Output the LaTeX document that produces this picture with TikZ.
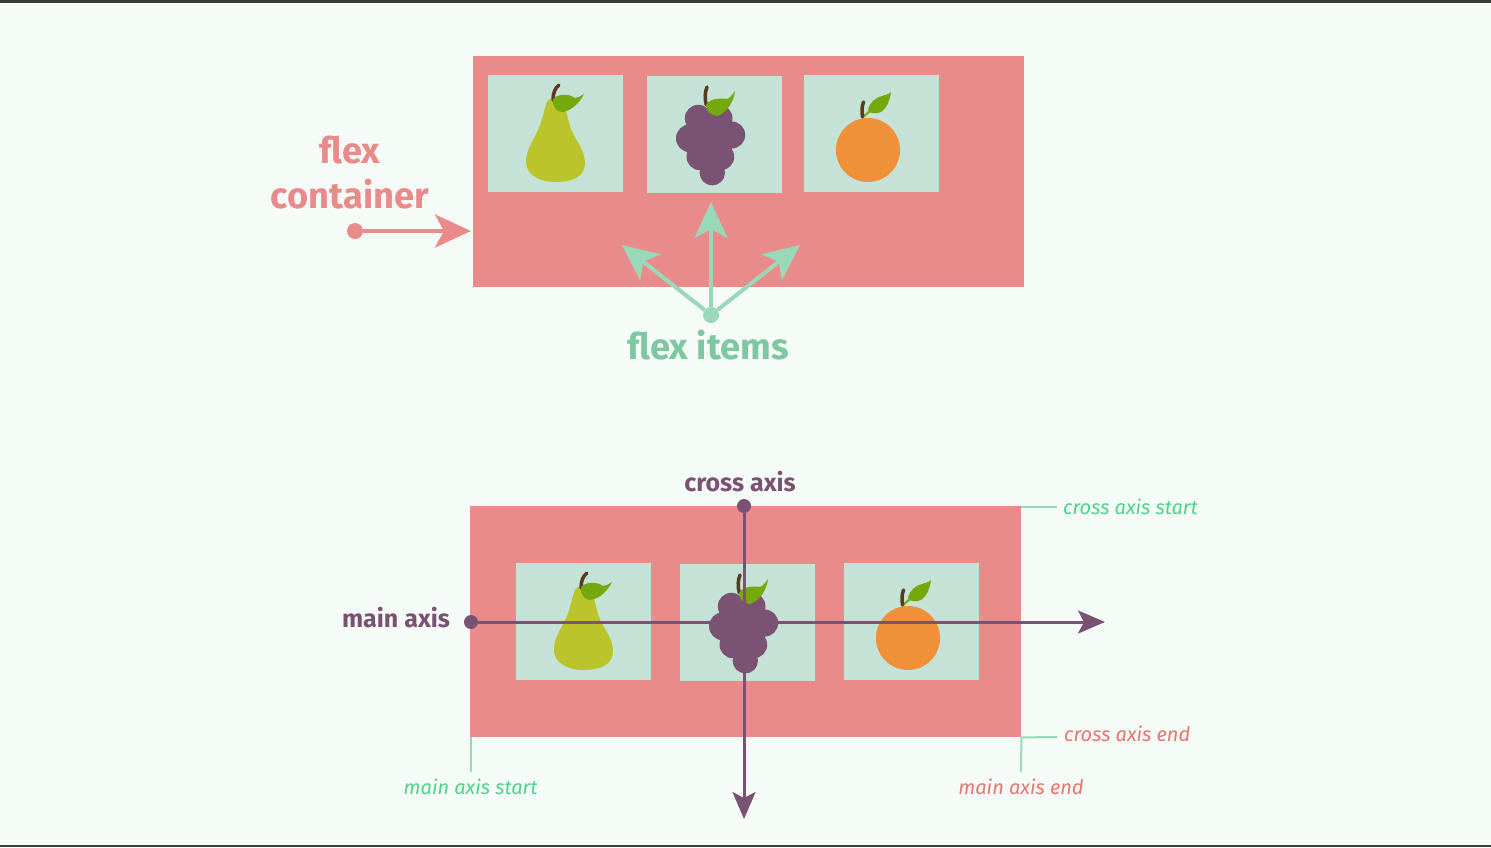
\documentclass[tikz,border=0pt]{standalone}
\usepackage{fontspec}
\setmainfont{Fira Sans}
\usetikzlibrary{arrows.meta,positioning}
\definecolor{paper}{HTML}{F5FBF7}
\definecolor{rim}{HTML}{3A3D3A}
\definecolor{salmon}{HTML}{EA8B8B}
\definecolor{mint}{HTML}{C4E2D5}
\definecolor{seafoam}{HTML}{99D8B8}
\definecolor{seatext}{HTML}{7DC8A0}
\definecolor{plum}{HTML}{7A5273}
\definecolor{pearcol}{HTML}{BBC42A}
\definecolor{orangecol}{HTML}{F09038}
\definecolor{leaf}{HTML}{74A80C}
\definecolor{bark}{HTML}{5A3A1E}
\definecolor{startcol}{HTML}{4FD488}
\definecolor{endcol}{HTML}{E8756F}

\begin{document}
\begin{tikzpicture}[x=1pt, y=-1pt,
    flexbox/.style={fill=salmon, anchor=north west, inner sep=0pt, minimum width=551pt, minimum height=231pt},
    fruitbox/.style={fill=mint, anchor=north west, inner sep=0pt, minimum width=135pt, minimum height=117pt},
    dot/.style={circle, fill=#1, inner sep=0pt, minimum size=14pt},
    bigtip/.style={-{Stealth[length=36pt,width=33pt,inset=9pt]}, line width=4pt},
    axistip/.style={-{Stealth[length=27pt,width=23pt,inset=6pt]}, line width=3pt, plum},
    leader/.style={line width=2pt, seafoam},
    bigtext/.style={font=\fontsize{36.3}{45}\selectfont\bfseries, align=center},
    axistext/.style={font=\fontsize{25}{28}\selectfont\bfseries, text=plum},
    endtext/.style={font=\fontsize{20}{24}\selectfont\itshape, inner sep=0pt},
    pear/.pic={
      \fill[pearcol] (62,24) .. controls (56,27) and (57,40) .. (50,55) .. controls (45,66) and (38,75) .. (38,87)
        .. controls (38,100) and (52,107) .. (67,107) .. controls (84,107) and (97,102) .. (97,88)
        .. controls (97,75) and (87,65) .. (83,54) .. controls (79,43) and (79,30) .. (70,25) -- cycle;
      \draw[bark, line width=3.5pt, line cap=round] (65,25) .. controls (65,18) and (67,13) .. (71,10);
      \fill[leaf] (65,24) .. controls (70,19) and (80,18) .. (87,23) .. controls (90,23) and (93,21) .. (96,19)
        .. controls (92,27) and (84,36) .. (74,37) .. controls (69,37) and (64,32) .. (65,24) -- cycle;
    },
    grapes/.pic={
      \foreach \cx/\cy/\r in {51.3/42.3/13.5, 72/42.3/13.5, 43/62.3/14, 84.7/59/13.5, 53/80.7/13.5, 73.7/80.7/13.5, 65.3/96.7/12.7, 63.7/62.3/24}
        \fill[plum] (\cx,\cy) circle (\r);
      \draw[bark, line width=3.5pt, line cap=round] (59.3,29) .. controls (57.5,22) and (58,16) .. (60,11);
      \fill[leaf] (59,29) .. controls (63,22) and (74,22) .. (80,23) .. controls (83,22) and (86,18) .. (88,15)
        .. controls (87,25) and (80,37) .. (70,40) .. controls (63,39) and (59,35) .. (59,29) -- cycle;
    },
    orange/.pic={
      \fill[orangecol] (64,75) circle (32);
      \draw[leaf, line width=2pt] (59,42) -- (66,36);
      \draw[bark, line width=3.5pt, line cap=round] (58.5,42) .. controls (57.5,36) and (58,31) .. (59.5,27);
      \fill[leaf] (64,35) .. controls (65,28) and (72,22) .. (78,21) .. controls (81,20) and (85,19) .. (87,17)
        .. controls (86,26) and (82,34) .. (77,37) .. controls (72,39) and (66,39) .. (64,35) -- cycle;
    }]
  \fill[paper] (0,0) rectangle (1491,847);
  \fill[rim] (0,0) rectangle (1491,2.5);
  \fill[rim] (0,844.5) rectangle (1491,847);
  \useasboundingbox (0,0) rectangle (1491,847);

  % upper container
  \node[flexbox] (Top) at (473,56) {};
  \node[fruitbox] (A1) at (488,75) {};
  \node[fruitbox] (A2) at (647,76) {};
  \node[fruitbox] (A3) at (804,75) {};
  \pic at (A1.north west) {pear};
  \pic at (A2.north west) {grapes};
  \pic at (A3.north west) {orange};

  \node[bigtext, text=salmon] (Flex) at (350,173) {flex\\container};
  \node[dot=salmon, minimum size=16pt] (FlexDot) at (355,231) {};
  \draw[bigtip, salmon, shorten >=2pt] (FlexDot) -- (FlexDot -| Top.west);

  \node[dot=seafoam, minimum size=16pt] (ItemDot) at (711,315) {};
  \node[bigtext, text=seatext] (Items) at (708,345) {flex items};
  \coordinate (ItemL) at (622,245);
  \coordinate (ItemM) at (711,202);
  \coordinate (ItemR) at (800,245);
  \foreach \e in {ItemL,ItemM,ItemR}
    \draw[bigtip, seafoam] (ItemDot) -- (\e);

  % lower container with its axes
  \node[flexbox] (Low) at (470,506) {};
  \node[fruitbox] (B1) at (516,563) {};
  \node[fruitbox] (B2) at (680,564) {};
  \node[fruitbox] (B3) at (844,563) {};
  \pic at (B1.north west) {pear};
  \pic at (B2.north west) {grapes};
  \pic at (B3.north west) {orange};

  \node[dot=plum] (MainDot) at (471,622) {};
  \node[dot=plum] (CrossDot) at (744,506) {};
  \coordinate (MainEnd) at (1105,622);
  \coordinate (CrossEnd) at (744,819);
  \draw[axistip] (MainDot) -- (MainEnd);
  \draw[axistip] (CrossDot) -- (CrossEnd);
  \node[axistext] (MainLab) at (396,618) {main axis};
  \node[axistext] (CrossLab) at (740,482) {cross axis};

  \node[endtext, text=startcol, anchor=west] (CrossStart) at (1063,507) {cross axis start};
  \node[endtext, text=endcol, anchor=west] (CrossStop) at (1064,734) {cross axis end};
  \node[endtext, text=startcol] (MainStart) at (470.5,787) {main axis start};
  \node[endtext, text=endcol] (MainStop) at (1021,787) {main axis end};
  \coordinate (CrossStartTick) at (1057,507);
  \coordinate (CrossStopTick) at (1057,737);
  \coordinate (MainStartTick) at (470.5,772);
  \coordinate (MainStopTick) at (1021,772);
  \draw[leader] (Low.north east) ++(0,1) -- (CrossStartTick);
  \draw[leader] (MainStopTick) -- (Low.south east) -- (CrossStopTick);
  \draw[leader] (Low.south west) ++(0.5,0) -- (MainStartTick);
\end{tikzpicture}
\end{document}
